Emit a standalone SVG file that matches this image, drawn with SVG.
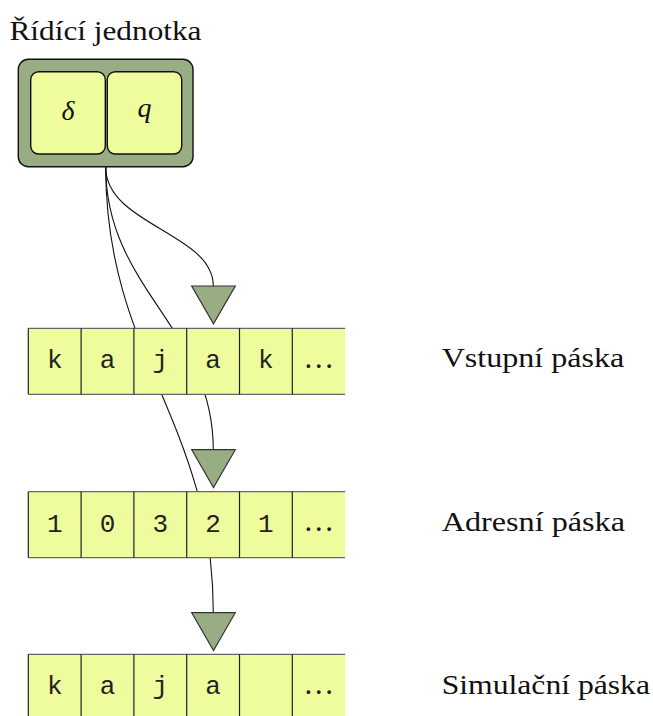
<svg xmlns="http://www.w3.org/2000/svg" width="653" height="716" viewBox="0 0 653 716">
<style>
.lbl{font-family:"Liberation Serif","DejaVu Serif",serif;font-size:27px;fill:#111}
.sym{font-family:"Liberation Serif","DejaVu Serif",serif;font-size:28px;font-style:italic;fill:#111;text-anchor:middle}
.cell{font-family:"Liberation Mono","Courier New",monospace;font-size:26px;fill:#222;text-anchor:middle}
.dots{font-family:"Liberation Serif",serif;font-size:31px;fill:#222;text-anchor:middle}
.tapefill{fill:#eefc9e;stroke:none}
.hline{stroke:#666;stroke-width:1.2}
.vline{stroke:#222;stroke-width:1.2}
.head{fill:#99ad84;stroke:#333;stroke-width:1.2;stroke-linejoin:miter}
.conn{fill:none;stroke:#111;stroke-width:1.1}
.outer{fill:#98ad83;stroke:#111;stroke-width:1.4}
.inner{fill:#eefc9e;stroke:#111;stroke-width:1.4}
</style>
<defs>
<g id="tapebase">
<rect class="tapefill" x="28.3" y="0" width="316.8" height="66"/>
<line class="hline" x1="28.3" y1="0" x2="345.1" y2="0"/>
<line class="hline" x1="28.3" y1="66" x2="345.1" y2="66"/>
<line class="vline" x1="28.3" y1="0" x2="28.3" y2="66"/>
<line class="vline" x1="81.1" y1="0" x2="81.1" y2="66"/>
<line class="vline" x1="133.9" y1="0" x2="133.9" y2="66"/>
<line class="vline" x1="186.7" y1="0" x2="186.7" y2="66"/>
<line class="vline" x1="239.5" y1="0" x2="239.5" y2="66"/>
<line class="vline" x1="292.3" y1="0" x2="292.3" y2="66"/>
</g>
<polygon id="tri" class="head" points="191.7,0 235.3,0 213.5,37.8"/>
</defs>

<g id="connectors">
<path class="conn" d="M105.7,167 C105.7,225 213.3,233 213.3,286"/>
<path class="conn" d="M105.7,167 C105.7,290 213.3,328 213.3,450"/>
<path class="conn" d="M105.7,167 C105.7,357 213.3,421 213.3,612.7"/>
</g>

<g id="title">
<text class="lbl" x="9.5" y="40" textLength="192" lengthAdjust="spacingAndGlyphs">Řídící jednotka</text>
</g>

<g id="control-unit">
<rect class="outer" x="18.3" y="59.3" width="174.7" height="107.4" rx="10" ry="10"/>
<g id="delta-box">
<rect class="inner" x="30.7" y="71.7" width="74.6" height="82.3" rx="8" ry="8"/>
<text class="sym" x="68" y="120">δ</text>
</g>
<g id="q-box">
<rect class="inner" x="107.3" y="71.7" width="74.4" height="82.3" rx="8" ry="8"/>
<text class="sym" x="144.5" y="117">q</text>
</g>
</g>

<g id="input-tape">
<use href="#tapebase" transform="translate(0,328.3)"/>
<text class="cell" x="54.7" y="368.3">k</text>
<text class="cell" x="107.5" y="368.3">a</text>
<text class="cell" x="160.3" y="368.3">j</text>
<text class="cell" x="213.1" y="368.3">a</text>
<text class="cell" x="265.9" y="368.3">k</text>
<text class="dots" x="318.7" y="367.5">…</text>
<text class="lbl" x="441.7" y="366.7" textLength="182.6" lengthAdjust="spacingAndGlyphs">Vstupní páska</text>
</g>

<g id="address-tape">
<use href="#tapebase" transform="translate(0,491.7)"/>
<text class="cell" x="54.7" y="531.7">1</text>
<text class="cell" x="107.5" y="531.7">0</text>
<text class="cell" x="160.3" y="531.7">3</text>
<text class="cell" x="213.1" y="531.7">2</text>
<text class="cell" x="265.9" y="531.7">1</text>
<text class="dots" x="318.7" y="530.9">…</text>
<text class="lbl" x="441.7" y="531" textLength="183.3" lengthAdjust="spacingAndGlyphs">Adresní páska</text>
</g>

<g id="simulation-tape">
<use href="#tapebase" transform="translate(0,654.3)"/>
<text class="cell" x="54.7" y="694.3">k</text>
<text class="cell" x="107.5" y="694.3">a</text>
<text class="cell" x="160.3" y="694.3">j</text>
<text class="cell" x="213.1" y="694.3">a</text>
<text class="dots" x="318.7" y="693.5">…</text>
<text class="lbl" x="441.7" y="694" textLength="208.3" lengthAdjust="spacingAndGlyphs">Simulační páska</text>
</g>

<g id="head-input"><use href="#tri" transform="translate(0,286)"/></g>
<g id="head-address"><use href="#tri" transform="translate(0,449.7)"/></g>
<g id="head-simulation"><use href="#tri" transform="translate(0,612.7)"/></g>
</svg>
